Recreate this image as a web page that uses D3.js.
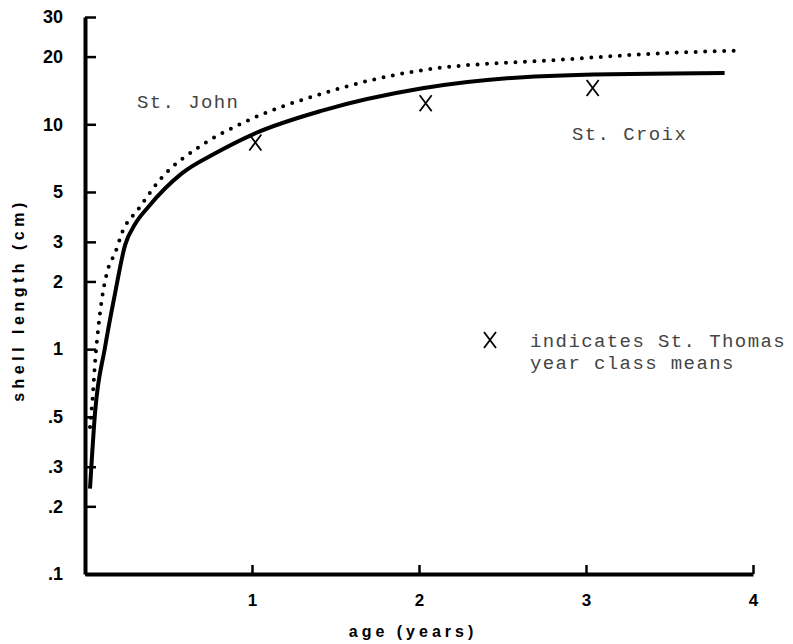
<!DOCTYPE html>
<html>
<head>
<meta charset="utf-8">
<script src="https://cdn.jsdelivr.net/npm/d3@7"></script>
<style>
  body { margin: 0; background: #fff; }
  svg { display: block; }
</style>
</head>
<body>
<svg id="chart"></svg>
<script>
// growth curves (age in years, shell length in cm)
const stJohnAge = [0.03, 0.045, 0.06, 0.08, 0.1, 0.14, 0.18, 0.22, 0.32, 0.46, 0.68, 0.94, 1.42, 2.02, 2.86, 3.46, 3.93];
const stJohnLen = [0.45, 0.6, 0.87, 1.25, 1.65, 2.3, 2.67, 3.27, 4.2, 5.8, 7.9, 10.1, 13.7, 17.4, 19.4, 20.7, 21.3];

const stCroixAge = [0.03, 0.06, 0.12, 0.18, 0.24, 0.3, 0.38, 0.58, 0.78, 1.02, 1.42, 2.02, 2.86, 3.83];
const stCroixLen = [0.24, 0.52, 1.02, 1.77, 2.9, 3.6, 4.3, 6.05, 7.43, 9.12, 11.5, 14.45, 16.5, 16.9];

// St. Thomas year class means
const stThomasAge = [1.02, 2.04, 3.04];
const stThomasLen = [8.3, 12.4, 14.5];

const xTicks = [1, 2, 3, 4];
const yTicks = [30, 20, 10, 5, 3, 2, 1, 0.5, 0.3, 0.2, 0.1];

const W = 793, H = 644;
const svg = d3.select('#chart').attr('width', W).attr('height', H);

const x = d3.scaleLinear().domain([0, 4]).range([85, 753]);
const y = d3.scaleLog().domain([0.1, 30]).range([574, 17]);

const numFont = '"Liberation Sans", Arial, sans-serif';
const typeFont = '"Liberation Mono", "DejaVu Sans Mono", monospace';

// axes
const yAxis = d3.axisLeft(y)
  .tickValues(yTicks)
  .tickFormat(d => d < 1 ? String(d).replace('0.', '.') : d)
  .tickSizeInner(-11)
  .tickSizeOuter(0)
  .tickPadding(22);

const gy = svg.append('g')
  .attr('transform', `translate(${x(0)},0)`)
  .call(yAxis);
gy.select('.domain').attr('stroke-width', 4);
gy.selectAll('.tick line').attr('stroke-width', 2.5);
gy.selectAll('.tick text')
  .style('font-family', numFont)
  .style('font-weight', 'bold')
  .style('font-size', '18px')
  .attr('fill', '#000');

const xAxis = d3.axisBottom(x)
  .tickValues(xTicks)
  .tickFormat(d3.format('d'))
  .tickSizeInner(-9)
  .tickSizeOuter(0)
  .tickPadding(20);

const gx = svg.append('g')
  .attr('transform', `translate(0,${y(0.1)})`)
  .call(xAxis);
gx.select('.domain').attr('stroke-width', 4);
gx.selectAll('.tick line').attr('stroke-width', 2.5);
gx.selectAll('.tick text')
  .style('font-family', '"Liberation Sans Narrow", "Liberation Sans", Arial, sans-serif')
  .style('font-weight', 'bold')
  .style('font-size', '17px')
  .attr('fill', '#000');

// axis titles
svg.append('text')
  .attr('transform', 'translate(24,300) rotate(-90)')
  .attr('text-anchor', 'middle')
  .style('font-family', numFont)
  .style('font-weight', 'bold')
  .style('font-size', '16px')
  .style('letter-spacing', '4.5px')
  .text('shell length (cm)');

svg.append('text')
  .attr('x', 413)
  .attr('y', 637)
  .attr('text-anchor', 'middle')
  .style('font-family', numFont)
  .style('font-weight', 'bold')
  .style('font-size', '16px')
  .style('letter-spacing', '4px')
  .text('age (years)');

// curves
const line = d3.line()
  .x(d => x(d[0]))
  .y(d => y(d[1]))
  .curve(d3.curveMonotoneX);

svg.append('path')
  .datum(stJohnAge.map((a, i) => [a, stJohnLen[i]]))
  .attr('d', line)
  .attr('fill', 'none')
  .attr('stroke', '#000')
  .attr('stroke-width', 4)
  .attr('stroke-linecap', 'round')
  .attr('stroke-dasharray', '0 9.5');

svg.append('path')
  .datum(stCroixAge.map((a, i) => [a, stCroixLen[i]]))
  .attr('d', line)
  .attr('fill', 'none')
  .attr('stroke', '#000')
  .attr('stroke-width', 4);

// X marks
const cross = (cx, cy) => `M${cx - 6},${cy - 8}L${cx + 6},${cy + 8}M${cx + 6},${cy - 8}L${cx - 6},${cy + 8}`;

svg.append('g')
  .selectAll('path')
  .data(stThomasAge.map((a, i) => [a, stThomasLen[i]]))
  .join('path')
  .attr('d', d => cross(x(d[0]), y(d[1])))
  .attr('stroke', '#000')
  .attr('stroke-width', 1.8)
  .attr('fill', 'none');

// annotations
const note = (tx, ty, s) => svg.append('text')
  .attr('x', tx).attr('y', ty)
  .style('font-family', typeFont)
  .style('font-size', '19px')
  .style('letter-spacing', '1.4px')
  .attr('fill', '#444')
  .text(s);

note(137, 108, 'St. John');
note(572, 140, 'St. Croix');

svg.append('path')
  .attr('d', cross(490, 340))
  .attr('stroke', '#000')
  .attr('stroke-width', 1.8)
  .attr('fill', 'none');
note(530, 347, 'indicates St. Thomas');
note(530, 369, 'year class means');
</script>
</body>
</html>
